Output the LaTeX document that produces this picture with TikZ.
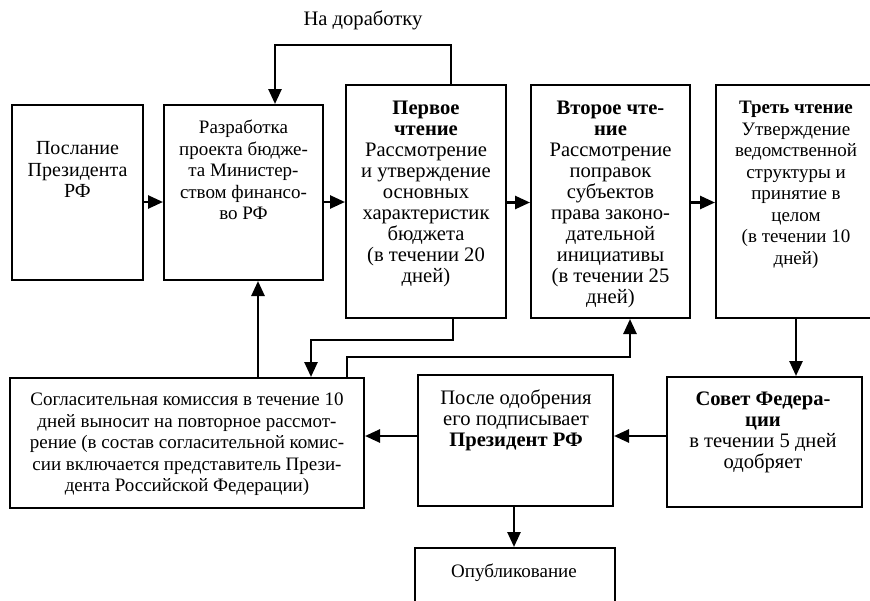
\documentclass[tikz,border=0pt]{standalone}
\usepackage{fontspec}
\setmainfont{Liberation Serif}
\usetikzlibrary{arrows.meta}
\newcommand\myT{\fontsize{19}{21.5}\selectfont}
\newcommand\myTb{\fontsize{20}{21.7}\selectfont}
\newcommand\myG{\fontsize{20.6}{21}\selectfont}
\begin{document}
\begin{tikzpicture}[x=1pt,y=-1pt,
  box/.style={draw, line width=2pt, inner sep=0pt, rectangle},
  tt/.style={anchor=north, inner sep=0pt, align=center, font=\myT},
  tg/.style={anchor=north, inner sep=0pt, align=center, font=\myG},
  arr/.style={line width=2.6pt, -{Triangle[length=15pt,width=13pt]}},
  ln/.style={line width=2.6pt}]
\useasboundingbox (0,0) rectangle (870,600);
\clip (0,0) rectangle (870,600);
% boxes
\node[box, minimum width=131pt, minimum height=175pt] (b1) at (77.5,192.5) {};
\node[box, minimum width=159pt, minimum height=175pt] (b2) at (243.5,192.5) {};
\node[box, minimum width=160pt, minimum height=233pt] (b3) at (426,201.5) {};
\node[box, minimum width=159pt, minimum height=233pt] (b4) at (610.5,201.5) {};
\node[box, minimum width=160pt, minimum height=233pt] (b5) at (796,201.5) {};
\node[box, minimum width=354pt, minimum height=130pt] (sog) at (187,443) {};
\node[box, minimum width=195pt, minimum height=131pt] (pres) at (515.5,440.5) {};
\node[box, minimum width=195pt, minimum height=130pt] (sov) at (764.5,442) {};
\node[box, minimum width=200pt, minimum height=72pt] (pub) at (515,584) {};
% texts
\node[tt, font=\myTb] (t1) at (77.5,139) {\strut Послание\\Президента\\РФ};
\node[tt] (t2) at (243.5,118.4) {\strut Разработка\\проекта бюдже-\\та Министер-\\ством финансо-\\во РФ};
\node[tg] (t3) at (426,99.5) {\strut\textbf{Первое}\\\textbf{чтение}\\Рассмотрение\\и утверждение\\основных\\характеристик\\бюджета\\(в течении 20\\дней)};
\node[tg] (t4) at (610.5,99.5) {\strut\textbf{Второе чте-}\\\textbf{ние}\\Рассмотрение\\поправок\\субъектов\\права законо-\\дательной\\инициативы\\(в течении 25\\дней)};
\node[tt] (t5) at (796,98.4) {\strut\textbf{Треть чтение}\\Утверждение\\ведомственной\\структуры и\\принятие в\\целом\\(в течении 10\\дней)};
\node[tt] (t6) at (187,390.4) {\strut Согласительная комиссия в течение 10\\дней выносит на повторное рассмот-\\рение (в состав согласительной комис-\\сии включается представитель Прези-\\дента Российской Федерации)};
\node[tg] (t7) at (516,389.5) {\strut После одобрения\\его подписывает\\\textbf{Президент РФ}};
\node[tg] (t8) at (763,390.5) {\strut\textbf{Совет Федера-}\\\textbf{ции}\\в течении 5 дней\\одобряет};
\node[tt] (t9) at (514,562.4) {\strut Опубликование};
\node[font=\myG, inner sep=0pt] (lab) at (363,20) {На доработку};
% connectors
\draw[arr] ([yshift=-9.5pt]b1.east) -- ([yshift=-9.5pt]b1.east -| b2.west);
\draw[arr] ([yshift=-9.5pt]b2.east) -- ([yshift=-9.5pt]b2.east -| b3.west);
\draw[arr] ([yshift=-1pt]b3.east) -- ([yshift=-1pt]b3.east -| b4.west);
\draw[arr] ([yshift=-1pt]b4.east) -- ([yshift=-1pt]b4.east -| b5.west);
\draw[arr] ([xshift=25pt]b3.north) -- ++(0,-39) -| ([xshift=31.5pt]b2.north);
\draw[arr] ([xshift=71pt]sog.north) -- ([xshift=14.5pt]b2.south);
\draw[arr] ([xshift=27pt]b3.south) -- ++(0,21) -| ([xshift=124pt]sog.north);
\draw[arr] ([xshift=160pt]sog.north) -- ++(0,-20) -| ([xshift=19.5pt]b4.south);
\draw[arr] (b5.south) -- (b5.south |- sov.north);
\draw[arr] ([yshift=6pt]sov.west) -- ([yshift=6pt]sov.west -| pres.east);
\draw[arr] ([yshift=4.5pt]pres.west) -- ([yshift=4.5pt]pres.west -| sog.east);
\draw[arr] ([xshift=-1.5pt]pres.south) -- ([xshift=-1.5pt]pres.south |- pub.north);
\end{tikzpicture}
\end{document}
